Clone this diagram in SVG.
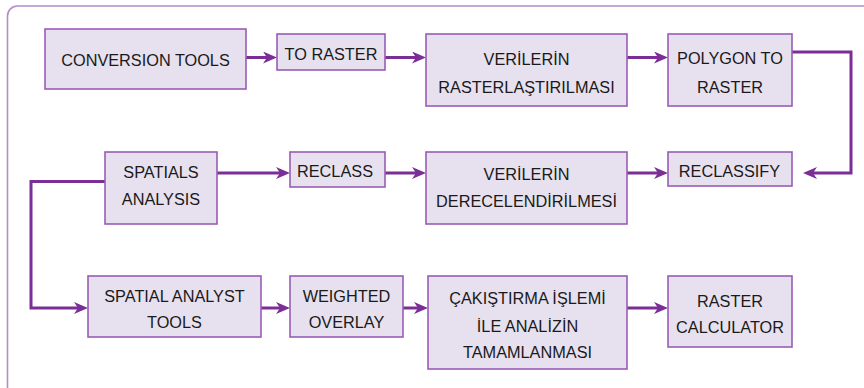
<svg xmlns="http://www.w3.org/2000/svg" width="864" height="388" viewBox="0 0 864 388">
<style>
.box{fill:#e7e1ef;stroke:#9a5cb4;stroke-width:1.6}
.t{font-family:"Liberation Sans",Arial,sans-serif;font-size:16.3px;fill:#1a1a1a;text-anchor:middle}
.c{fill:none;stroke:#7a2e96;stroke-width:3;marker-end:url(#ah)}
.frame{fill:none;stroke:#b48cc8;stroke-width:1.6}
</style>
<defs>
<marker id="ah" viewBox="0 -6 14 12" refX="6" refY="0" markerWidth="14" markerHeight="12" markerUnits="userSpaceOnUse" orient="auto">
<path d="M0,-6 L14,0 L0,6 L4,0 Z" fill="#7a2e96"/>
</marker>
</defs>
<rect width="864" height="388" fill="#ffffff"/>
<path class="frame" d="M7.5,388 V16 A10,10 0 0 1 17.5,6 H864"/>
<g id="connectors">
<path class="c" d="M246,57.5 H269"/>
<path class="c" d="M385,57.5 H418"/>
<path class="c" d="M627,57.5 H660"/>
<path class="c" d="M792,52 H851 V173 H811"/>
<path class="c" d="M627,173 H660"/>
<path class="c" d="M385,173 H418"/>
<path class="c" d="M217,173 H282"/>
<path class="c" d="M105,181.5 H31 V308 H80"/>
<path class="c" d="M261,308 H282"/>
<path class="c" d="M403,308 H420"/>
<path class="c" d="M627,308 H660"/>
</g>
<g id="n1"><rect class="box" x="45" y="29" width="201" height="60"/><text class="t" x="145.5" y="66">CONVERSION TOOLS</text></g>
<g id="n2"><rect class="box" x="277" y="34" width="108" height="36"/><text class="t" x="331" y="60">TO RASTER</text></g>
<g id="n3"><rect class="box" x="426" y="34" width="201" height="72"/><text class="t" x="526.5" y="64.5">VERİLERİN</text><text class="t" x="526.5" y="92.5">RASTERLAŞTIRILMASI</text></g>
<g id="n4"><rect class="box" x="668" y="34" width="124" height="72"/><text class="t" x="730" y="64">POLYGON TO</text><text class="t" x="730" y="92.5">RASTER</text></g>
<g id="n5"><rect class="box" x="668" y="152" width="124" height="34"/><text class="t" x="729.5" y="176.7">RECLASSIFY</text></g>
<g id="n6"><rect class="box" x="426" y="152" width="201" height="72"/><text class="t" x="526.5" y="180">VERİLERİN</text><text class="t" x="526.5" y="206.7">DERECELENDİRİLMESİ</text></g>
<g id="n7"><rect class="box" x="290" y="152" width="95" height="35"/><text class="t" x="335" y="176.7">RECLASS</text></g>
<g id="n8"><rect class="box" x="105" y="152" width="112" height="72"/><text class="t" x="161" y="178.3">SPATIALS</text><text class="t" x="161" y="205">ANALYSIS</text></g>
<g id="n9"><rect class="box" x="88" y="276" width="173" height="61"/><text class="t" x="174.5" y="301.7">SPATIAL ANALYST</text><text class="t" x="174.5" y="327.7">TOOLS</text></g>
<g id="n10"><rect class="box" x="290" y="276" width="113" height="61"/><text class="t" x="346.5" y="301.7">WEIGHTED</text><text class="t" x="346.5" y="327.7">OVERLAY</text></g>
<g id="n11"><rect class="box" x="428" y="276" width="199" height="93"/><text class="t" x="527.5" y="304.3">ÇAKIŞTIRMA İŞLEMİ</text><text class="t" x="527.5" y="331.5">İLE ANALİZİN</text><text class="t" x="527.5" y="358.3">TAMAMLANMASI</text></g>
<g id="n12"><rect class="box" x="668" y="276" width="124" height="71"/><text class="t" x="730" y="306.7">RASTER</text><text class="t" x="730" y="333.3">CALCULATOR</text></g>
</svg>
